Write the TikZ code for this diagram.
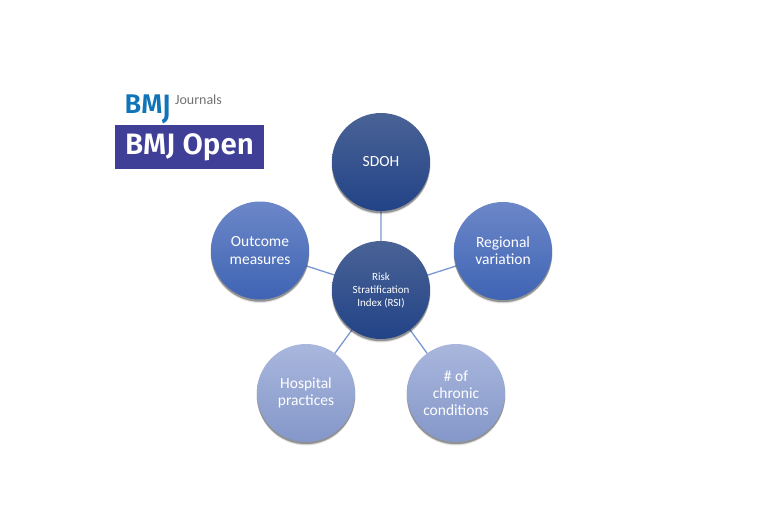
\documentclass[tikz,border=0pt]{standalone}
\usepackage{fontspec}
\usepackage{graphicx}
\setmainfont{Carlito}
\newfontfamily\logofont{Fira Sans SemiBold}
\usetikzlibrary{shadows,calc}
\definecolor{navytop}{HTML}{4A6396}
\definecolor{navymid}{HTML}{254B90}
\definecolor{navybot}{HTML}{224387}
\definecolor{midtop}{HTML}{6C87C8}
\definecolor{midmid}{HTML}{4C70BE}
\definecolor{midbot}{HTML}{3F64B4}
\definecolor{paletop}{HTML}{A9B7DD}
\definecolor{palemid}{HTML}{98A9D6}
\definecolor{palebot}{HTML}{8497C9}
\definecolor{linkblue}{HTML}{7B98D2}
\definecolor{logoblue}{HTML}{0F74B8}
\definecolor{logopurple}{HTML}{3F3F98}
\tikzset{
  x=1pt,y=-1pt,
  softshadow/.style={
    general shadow={shadow xshift=0pt,shadow yshift=-3.5pt,shadow scale=1.0,fill=black,opacity=.10},
    general shadow={shadow xshift=0pt,shadow yshift=-2.5pt,shadow scale=1.0,fill=black,opacity=.18},
    general shadow={shadow xshift=0pt,shadow yshift=-1.5pt,shadow scale=1.01,fill=black,opacity=.22}},
  bubble/.style={circle,minimum size=98pt,inner sep=0pt,align=center,text=white,
    font=\fontsize{15.5}{17.2}\selectfont,softshadow},
  navy/.style={bubble,top color=navytop,middle color=navymid,bottom color=navybot},
  mid/.style={bubble,top color=midtop,middle color=midmid,bottom color=midbot},
  pale/.style={bubble,top color=paletop,middle color=palemid,bottom color=palebot},
  link/.style={draw=linkblue,line width=1.3pt},
}
\begin{document}
\begin{tikzpicture}
\useasboundingbox (0,0) rectangle (768,531);
\fill[white] (0,0) rectangle (768,531);
\coordinate (cc) at (381,290);
\coordinate (cs) at (381,162);
\coordinate (cr) at (503,251);
\coordinate (co) at (260,251);
\coordinate (ch) at (306,393);
\coordinate (cn) at (456,393);
\draw[link] (cc) -- (cs) (cc) -- (cr) (cc) -- (co) (cc) -- (ch) (cc) -- (cn);
\node[navy] (sdoh) at (cs) {SDOH};
\node[mid] (regional) at (cr) {Regional\\variation};
\node[mid] (outcome) at ($(co)+(0,-0.5)$) {Outcome\\measures};
\node[pale] (hospital) at (ch) {Hospital\\practices};
\node[pale] (chronic) at (cn) {\# of\\chronic\\conditions};
\node[navy,font=\fontsize{11}{13}\selectfont] (rsi) at (cc) {Risk\\Stratification\\Index (RSI)};
% logo
\node[draw=none,fill=logopurple,minimum width=149pt,minimum height=44pt,inner sep=0pt,
  text=white,font=\logofont\fontsize{29.5}{31}\selectfont] (open) at (189.5,147) {BMJ Open};
\node[inner sep=0pt,anchor=base west,text=logoblue,font=\logofont\fontsize{27}{29}\selectfont] (bmj) at (124.5,113) {BM\raisebox{-5.5pt}{\scalebox{1}[1.25]{J}}};
\node[inner sep=0pt,text=black!55,font=\fontsize{14}{16}\selectfont] (journals) at (198.5,100) {Journals};
\end{tikzpicture}
\end{document}
